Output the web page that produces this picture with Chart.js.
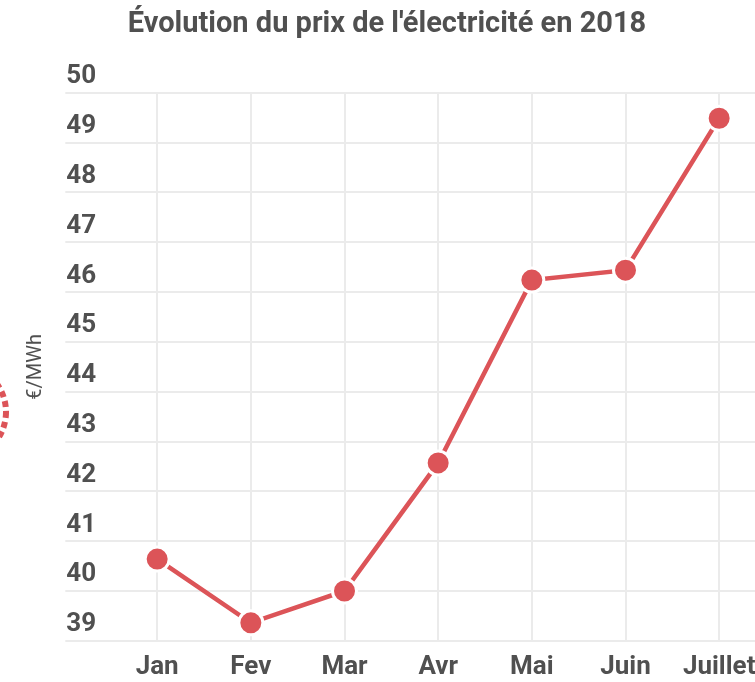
<!DOCTYPE html>
<html lang="fr">
<head>
<meta charset="utf-8">
<title>Prix de l'électricité 2018</title>
<script src="https://cdn.jsdelivr.net/npm/chart.js@4/dist/chart.umd.min.js"></script>
<style>
    html, body { margin: 0; padding: 0; background: #fff; overflow: hidden; }
    #wrap { width: 781px; height: 694px; }
</style>
</head>
<body>
<div id="wrap"><canvas id="prixChart"></canvas></div>
<script>
// data
const mois = ["Jan", "Fev", "Mar", "Avr", "Mai", "Juin", "Juillet"];
const prix = [40.64, 39.36, 40.0, 42.57, 46.24, 46.44, 49.49];
const yMin = 39;
const yMax = 50;

const rouge = "#dc5458";
const texte = "#505050";
const grille = "#ebebeb";

/** --------------- dashed ring on the left edge ---------------- */
const anneau = {
    id: "anneau",
    afterDraw(chart) {
        const ctx = chart.ctx;
        ctx.save();
        ctx.strokeStyle = rouge;
        ctx.lineWidth = 6;
        ctx.setLineDash([6, 4]);
        ctx.beginPath();
        ctx.arc(-42, 412, 48, 0, Math.PI * 2);
        ctx.stroke();
        ctx.restore();
    },
};

document.addEventListener("DOMContentLoaded", () => {
    const ctx = document.getElementById("prixChart");
    new Chart(ctx.getContext("2d"), {
        type: "line",
        data: {
            labels: mois,
            datasets: [
                {
                    label: "Prix (€/MWh)",
                    data: prix,
                    borderColor: rouge,
                    backgroundColor: rouge,
                    borderWidth: 4.5,
                    pointRadius: 12,
                    pointHoverRadius: 12,
                    pointBackgroundColor: rouge,
                    pointBorderColor: "#fff",
                    pointBorderWidth: 3,
                    tension: 0,
                    fill: false,
                },
            ],
        },
        options: {
            responsive: true,
            maintainAspectRatio: false,
            animation: false,
            layout: { padding: { left: 0, right: 7, top: 0, bottom: 0 } },
            scales: {
                x: {
                    offset: true,
                    grid: { color: grille, lineWidth: 2, drawTicks: false },
                    border: { display: false },
                    ticks: {
                        color: texte,
                        padding: 11,
                        maxRotation: 0,
                        autoSkip: false,
                        font: { family: "Roboto", size: 26, weight: "bold" },
                    },
                },
                y: {
                    min: yMin,
                    max: yMax,
                    grid: { color: grille, lineWidth: 2, tickLength: 45 },
                    border: { display: false },
                    ticks: {
                        stepSize: 1,
                        color: texte,
                        padding: -30.75,
                        labelOffset: -16,
                        font: { family: "Roboto", size: 26, weight: "bold" },
                    },
                    title: {
                        display: true,
                        text: "€/MWh",
                        color: texte,
                        font: { family: "Roboto", size: 20 },
                        padding: { top: 24, bottom: 49 },
                    },
                },
            },
            plugins: {
                legend: { display: false },
                tooltip: { enabled: false },
                title: {
                    display: true,
                    text: "Évolution du prix de l'électricité en 2018",
                    color: texte,
                    font: { family: "Roboto", size: 29, weight: "bold" },
                    padding: { top: 7, bottom: 51 },
                },
            },
        },
        plugins: [anneau],
    });
});
</script>
</body>
</html>
